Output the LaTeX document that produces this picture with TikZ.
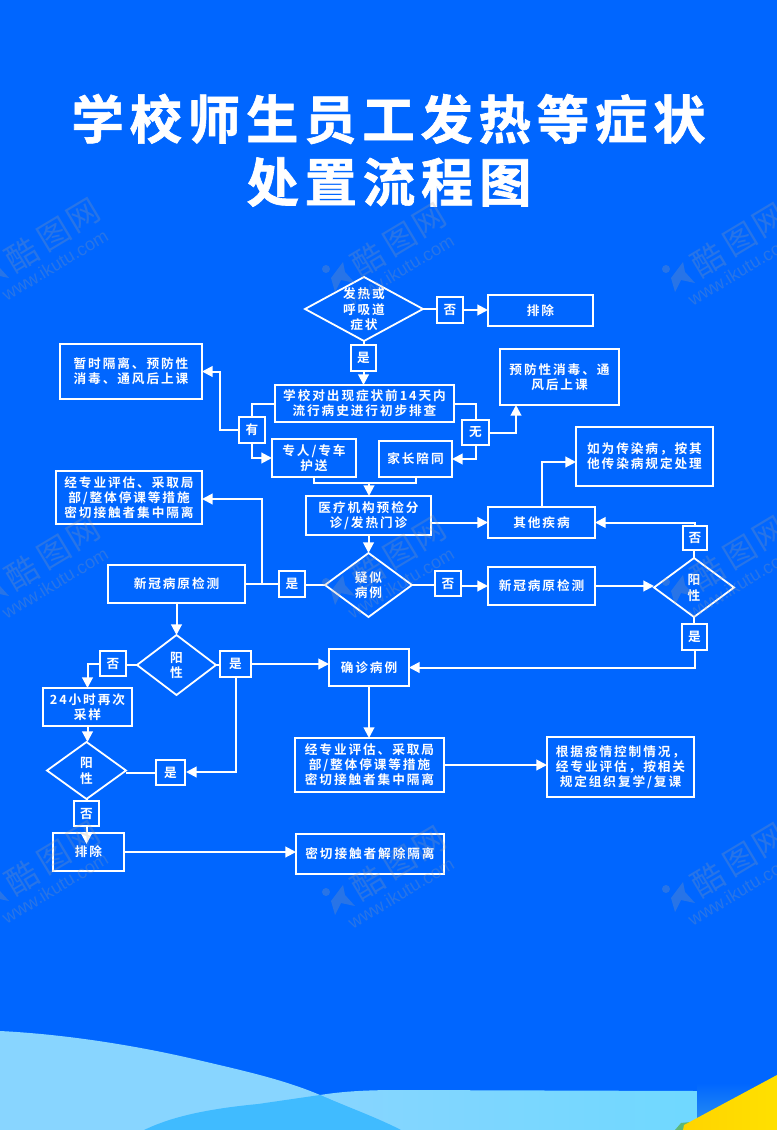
\documentclass[tikz,border=0pt]{standalone}
\usepackage{fontspec}
\setmainfont{Noto Sans CJK SC}[BoldFont=* Bold]
\newfontfamily\boxcjk{Noto Sans CJK SC Bold}[LetterSpace=15]
\newfontfamily\titlecjk{Noto Sans CJK SC Bold}[LetterSpace=11,FakeBold=1.2]
\newfontfamily\wmcjk{Noto Sans CJK SC}
\setsansfont{Liberation Sans}
\usetikzlibrary{arrows.meta,shapes.geometric,calc}
\definecolor{bgblue}{HTML}{0066FF}
\definecolor{lightA}{HTML}{88D5FF}
\definecolor{lightB}{HTML}{6FD8FF}
\definecolor{midblue}{HTML}{40BBFF}
\definecolor{wmgrey}{HTML}{A0A0A0}
\definecolor{sqblue}{HTML}{2A90F0}
\definecolor{yelA}{HTML}{FFD400}
\definecolor{yelB}{HTML}{FFE000}
\definecolor{grn}{HTML}{5FB878}
\tikzset{
  bx/.style={draw=white,line width=1.35pt,text=white,inner sep=0pt,outer sep=0pt,align=center,font=\boxcjk\fontsize{9.5pt}{11.3pt}\selectfont},
  dia/.style={draw=white,line width=1.35pt,text=white,diamond,inner sep=0pt,outer sep=0pt,font=\boxcjk\fontsize{9.5pt}{11.3pt}\selectfont},
  ln/.style={draw=white,line width=1.5pt},
  ar/.style={ln,-{Triangle[width=8pt,length=8pt]}},
  wmt/.style={text=wmgrey,opacity=.25,inner sep=0pt,rotate=31},
}
% name, x1, y1, x2, y2, text
\newcommand{\bxn}[6]{\node[bx,minimum width={(#4-#2)*0.75pt},minimum height={(#5-#3)*0.75pt}] (#1) at ({(#2+#4)/2},{(#3+#5)/2}) {#6};}
% name, x1, y1, x2, y2, lines (tabular body)
\newcommand{\dmn}[6]{\pgfmathsetmacro{\dmasp}{(#4-#2)/(#5-#3)}\node[dia,aspect=\dmasp,minimum width={(#4-#2)*0.75pt},minimum height={(#5-#3)*0.75pt}] (#1) at ({(#2+#4)/2},{(#3+#5)/2}) {\makebox[0pt][c]{\raisebox{-7.6pt}{\smash{\begin{tabular}[c]{@{}c@{}}#6\end{tabular}}}}};}
% name, logo x, logo y
\newcommand{\wmk}[3]{%
  \fill[wmgrey,opacity=.25] (#2-7,#3-8) circle (4);
  \fill[wmgrey,opacity=.25] (#2+10,#3-15) -- (#2-2,#3+1) -- (#2+2,#3+15) -- (#2+8,#3+3) -- (#2+22,#3+6) -- (#2+12,#3-5) -- cycle;
  \node[wmt,font=\wmcjk\fontsize{24pt}{24pt}\selectfont] (#1a) at (#2+35,#3-17) {酷};
  \node[wmt,font=\wmcjk\fontsize{24pt}{24pt}\selectfont] (#1b) at (#2+67,#3-38) {图};
  \node[wmt,font=\wmcjk\fontsize{24pt}{24pt}\selectfont] (#1c) at (#2+96,#3-56) {网};
  \node[wmt,font=\sffamily\fontsize{13.5pt}{14pt}\selectfont] (#1d) at (#2+68,#3-7) {www.ikutu.com};
}
\begin{document}
\begin{tikzpicture}[x=0.75pt,y=-0.75pt]
\useasboundingbox (0,0) rectangle (777,1130);
\fill[bgblue] (0,0) rectangle (777,1130);
% bottom waves
\shade[left color=lightA,right color=lightB] (320,1095) .. controls (345,1091) and (370,1090) .. (400,1090) -- (697,1091) -- (697,1130) -- (400,1130) -- cycle;
\fill[lightA] (0,1031) .. controls (60,1034) and (130,1044) .. (198,1060) .. controls (245,1071) and (285,1080) .. (320,1095) -- (401,1130) -- (0,1130) -- cycle;
\fill[midblue] (144,1130) .. controls (165,1120) and (195,1110) .. (258,1104) -- (320,1095) .. controls (350,1108) and (378,1118) .. (401,1130) -- cycle;
\shade[top color=bgblue,bottom color=sqblue] (697,1083) rectangle (777,1125);
\fill[grn] (675,1130) -- (681,1123) -- (690,1122) -- (690,1130) -- cycle;
\shade[left color=yelA,right color=yelB] (683,1130) -- (684,1125) -- (697,1118) -- (777,1075) -- (777,1130) -- cycle;
% title
\node[text=white,inner sep=0pt,font=\titlecjk\fontsize{39.3pt}{41pt}\selectfont] (title1) at (388.5,119) {学校师生员工发热等症状};
\node[text=white,inner sep=0pt,font=\titlecjk\fontsize{39.3pt}{41pt}\selectfont] (title2) at (389,182) {处置流程图};
% nodes
\dmn{d1}{305}{277}{423}{341}{发热或\\呼吸道\\症状}
\bxn{s1}{351}{345}{376}{371}{是}
\bxn{n1}{437}{297}{463}{323}{否}
\bxn{pc1}{488}{295}{593}{326}{排除}
\bxn{xx}{275}{385}{454}{422}{学校对出现症状前14天内\\流行病史进行初步排查}
\bxn{yf}{500}{349}{619}{405}{预防性消毒、通\\风后上课}
\bxn{wu}{462}{420}{489}{445}{无}
\bxn{you}{239}{417}{265}{443}{有}
\bxn{ls}{60}{344}{202}{399}{暂时隔离、预防性\\消毒、通风后上课}
\bxn{zr}{272}{439}{356}{477}{专人/专车\\护送}
\bxn{jz}{379}{441}{452}{477}{家长陪同}
\bxn{yl}{306}{496}{431}{535}{医疗机构预检分\\诊/发热门诊}
\bxn{pg1}{56}{471}{202}{524}{经专业评估、采取局\\部/整体停课等措施\\密切接触者集中隔离}
\bxn{rw}{576}{427}{713}{486}{如为传染病，按其\\他传染病规定处理}
\bxn{qt}{488}{507}{595}{538}{其他疾病}
\dmn{ys}{325}{553}{412}{617}{疑似\\病例}
\bxn{s2}{279}{571}{305}{597}{是}
\bxn{n2}{435}{571}{461}{596}{否}
\bxn{xg1}{108}{565}{245}{603}{新冠病原检测}
\bxn{xg2}{488}{567}{595}{605}{新冠病原检测}
\dmn{y1}{654}{558}{734}{617}{阳\\性}
\bxn{n3}{683}{526}{707}{550}{否}
\bxn{s3}{682}{624}{707}{650}{是}
\dmn{y2}{137}{635}{216}{695}{阳\\性}
\bxn{n4}{100}{651}{126}{676}{否}
\bxn{s4}{220}{651}{251}{677}{是}
\bxn{qz}{329}{649}{409}{686}{确诊病例}
\bxn{cy}{43}{688}{132}{726}{24小时再次\\采样}
\dmn{y3}{47}{742}{126}{799}{阳\\性}
\bxn{s5}{156}{760}{185}{785}{是}
\bxn{n5}{74}{801}{99}{826}{否}
\bxn{pc2}{53}{833}{124}{871}{排除}
\bxn{pg2}{295}{738}{444}{792}{经专业评估、采取局\\部/整体停课等措施\\密切接触者集中隔离}
\bxn{gj}{547}{737}{694}{797}{根据疫情控制情况，\\经专业评估，按相关\\规定组织复学/复课}
\bxn{mq}{296}{834}{444}{874}{密切接触者解除隔离}
% free connector points
\coordinate (yfin) at (516,405);
\coordinate (mg) at (369,483);
\coordinate (rwin) at (576,462);
\coordinate (pgin) at (202,499);
\coordinate (s5in) at (186,772);
\coordinate (pcin) at (86.5,844);
% connectors
\draw[ln] (d1.south) -- (d1.south |- s1.north);
\draw[ar] (s1.south) -- (s1.south |- xx.north);
\draw[ln] (d1.east) -- (d1.east -| n1.west);
\draw[ar] (n1.east) -- (n1.east -| pc1.west);
\draw[ln] (xx.west) -| (you.north);
\draw[ar] (you.south) |- (zr.west);
\draw[ar] (you.west) -- ++(-19,0) |- (ls.east);
\draw[ln] (xx.east) -| (wu.north);
\draw[ar] (wu.east) -| (yfin);
\draw[ar] (wu.south) |- (jz.east);
\draw[ln] (zr.south) |- (mg) -| (jz.south);
\draw[ar] (mg) -- (mg |- yl.north);
\draw[ar] (yl.south) -- (yl.south |- ys.north);
\draw[ar] (yl.east |- qt.west) -- (qt.west);
\draw[ar] (qt.north) |- (rwin);
\draw[ln] (ys.west) -- (ys.west -| s2.east);
\draw[ln] (s2.west) -- (s2.west -| xg1.east);
\draw[ar] (s2.west) -- ++(-17,0) |- (pgin);
\draw[ln] (ys.east) -- (ys.east -| n2.west);
\draw[ar] (n2.east |- xg2.west) -- (xg2.west);
\draw[ar] (xg2.east) -- (xg2.east -| y1.west);
\draw[ln] (y1.north) -- (y1.north |- n3.south);
\draw[ar] (n3.north) |- (qt.east);
\draw[ln] (y1.south) -- (y1.south |- s3.north);
\draw[ar] (s3.south) |- (qz.east);
\draw[ar] (xg1.south) -- (xg1.south |- y2.north);
\draw[ln] (y2.west) -- (y2.west -| n4.east);
\draw[ar] (n4.west) -| (cy.north);
\draw[ln] (y2.east) -- (y2.east -| s4.west);
\draw[ar] (s4.east) -- (qz.west |- s4.east);
\draw[ar] (qz.south) -- (qz.south |- pg2.north);
\draw[ar] (s4.south) |- (s5in);
\draw[ln] (s5.west) -- (s5.west -| y3.east);
\draw[ar] (cy.south) -- (cy.south |- y3.north);
\draw[ln] (y3.south) -- (y3.south |- n5.north);
\draw[ar] (n5.south) -- (pcin);
\draw[ar] (pc2.east) -- (pc2.east -| mq.west);
\draw[ar] (pg2.east) -- (pg2.east -| gj.west);
% watermarks
\wmk{wa}{-13}{272}
\wmk{wb}{333}{277}
\wmk{wc}{673}{277}
\wmk{wd}{-13}{590}
\wmk{we}{333}{590}
\wmk{wf}{673}{590}
\wmk{wg}{-13}{895}
\wmk{wh}{333}{900}
\wmk{wi}{673}{897}
\end{tikzpicture}
\end{document}
